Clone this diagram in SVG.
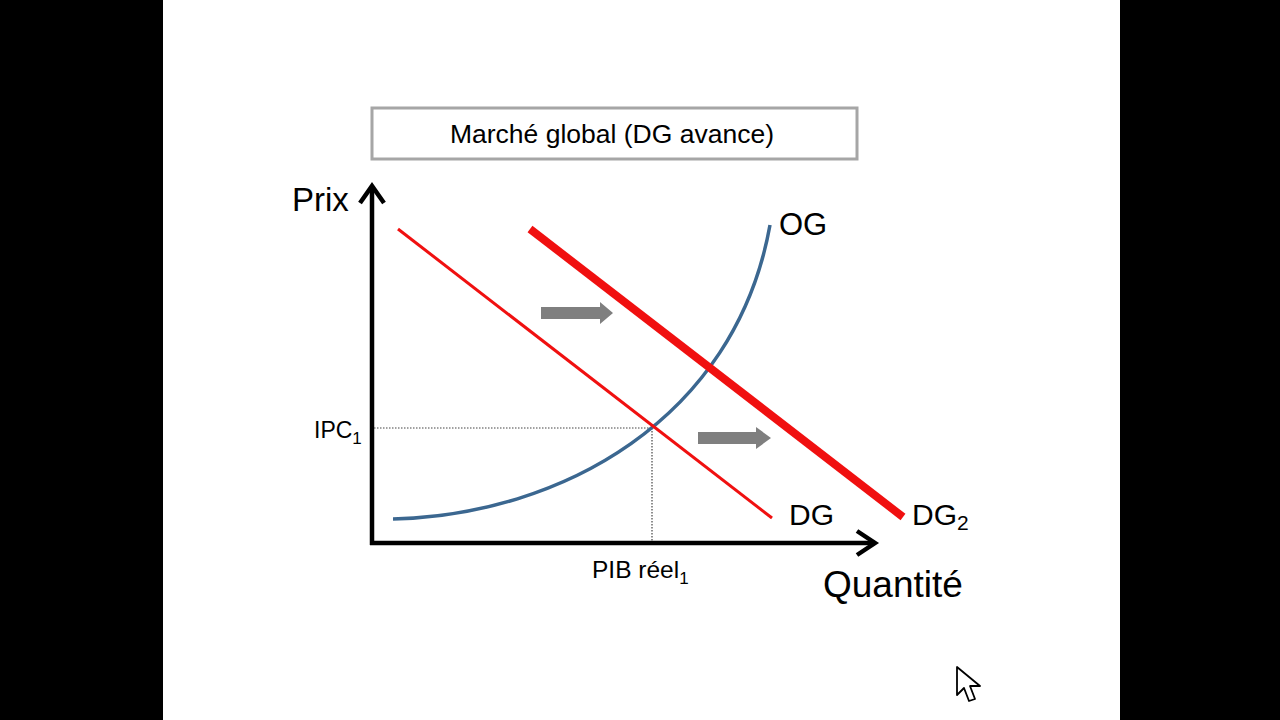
<svg xmlns="http://www.w3.org/2000/svg" width="1280" height="720" viewBox="0 0 1280 720">
<style>
  .t { font-family: "Liberation Sans", Arial, sans-serif; fill: #000; }
  .ax { fill: none; stroke: #000; stroke-width: 4.5; stroke-linecap: butt; stroke-linejoin: miter; }
  .dot { fill: none; stroke: #444; stroke-width: 1.2; stroke-dasharray: 1.5 1.5; }
  .garrow { fill: #7f7f7f; }
</style>
<rect x="0" y="0" width="1280" height="720" fill="#000"/>
<rect x="163" y="0" width="957" height="720" fill="#fff"/>

<g id="title">
  <rect x="372" y="108" width="485" height="51" fill="#fff" stroke="#a6a6a6" stroke-width="3"/>
  <text class="t" x="612" y="143" font-size="26.5" text-anchor="middle">Marché global (DG avance)</text>
</g>

<g id="axes">
  <line class="ax" x1="372" y1="186" x2="372" y2="545"/>
  <line class="ax" x1="370" y1="543" x2="875" y2="543"/>
  <polyline class="ax" points="360,203 372,186 384,203"/>
  <polyline class="ax" points="857,531 875,543 857,555"/>
  <text class="t" x="292" y="211" font-size="33">Prix</text>
  <text class="t" x="823" y="597" font-size="37">Quantité</text>
</g>

<g id="connectors">
  <line class="dot" x1="374" y1="428" x2="652" y2="428"/>
  <line class="dot" x1="652" y1="428" x2="652" y2="541"/>
</g>

<g id="OG">
  <path d="M393,519 C560,515 735,420 770,225" fill="none" stroke="#3b6790" stroke-width="3.5"/>
  <text class="t" x="779" y="235" font-size="31">OG</text>
</g>

<g id="DG">
  <line x1="398" y1="229" x2="772" y2="518" stroke="#f01010" stroke-width="3"/>
  <text class="t" x="789" y="525" font-size="30">DG</text>
</g>

<g id="DG2">
  <line x1="530" y1="229" x2="903" y2="517" stroke="#f01010" stroke-width="8"/>
  <text class="t" x="912" y="525" font-size="30">DG<tspan font-size="21" dy="5">2</tspan></text>
</g>

<g id="labels">
  <text class="t" x="314" y="438" font-size="23">IPC<tspan font-size="17" dy="6">1</tspan></text>
  <text class="t" x="592" y="578" font-size="24.5">PIB réel<tspan font-size="17" dy="6">1</tspan></text>
</g>

<g id="shift-arrows">
  <polygon class="garrow" points="541,307 600,307 600,302 613,313 600,324 600,319 541,319"/>
  <polygon class="garrow" points="698,432 756,432 756,427 771,438 756,449 756,444 698,444"/>
</g>

<g id="cursor">
  <polygon points="957,667 957,695 964,688 969,701 975,699 970,686 980,686" fill="#fff" stroke="#000" stroke-width="1.8" stroke-linejoin="round"/>
</g>
</svg>
